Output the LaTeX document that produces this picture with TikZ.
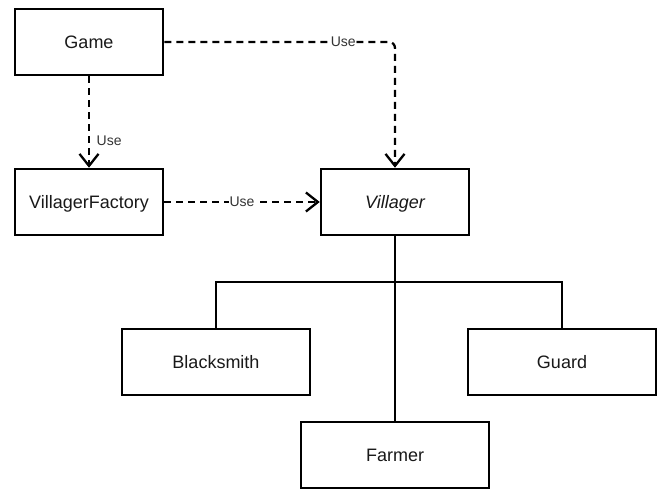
\documentclass[tikz,border=0pt]{standalone}
\usepackage{fontspec}
\setmainfont{Liberation Sans}
\usetikzlibrary{arrows.meta}
\definecolor{labelgray}{HTML}{333333}
\begin{document}
\begin{tikzpicture}[x=1pt,y=-1pt,
  cls/.style={draw=black, line width=2.5pt, fill=white, minimum height=66pt, inner sep=0pt, text height=13pt, text depth=0pt, font=\fontsize{18}{20}\selectfont, text=black!90},
  small/.style={cls, minimum width=148pt},
  big/.style={cls, minimum width=188pt},
  dep/.style={draw=black, line width=2.3pt, dash pattern=on 7pt off 5pt, -{Straight Barb[length=12pt,width=19pt,line width=2.3pt]}},
  uselbl/.style={font=\fontsize{14}{16}\selectfont, text=labelgray, fill=white, inner sep=0.5pt},
  gen/.style={draw=black, line width=2.3pt}
]
\useasboundingbox (0,0) rectangle (666,494);
\node[small] (game) at (89,42) {Game};
\node[small] (factory) at (89,202) {VillagerFactory};
\node[small] (villager) at (395,202) {\itshape Villager};
\node[big] (blacksmith) at (216,362) {Blacksmith};
\node[big] (guard) at (562,362) {Guard};
\node[big] (farmer) at (395,455) {Farmer};
\coordinate (j) at (395,282);

\draw[dep, rounded corners=6pt] (game.east) -| node[uselbl, pos=0.388] {Use} (villager.north);
\draw[dep] (game.south) -- node[uselbl, fill=none, anchor=west, pos=0.7, xshift=6pt] {Use} (factory.north);
\draw[dep] (factory.east) -- node[uselbl, pos=0.5] {Use} (villager.west);

\draw[gen] (villager.south) -- (farmer.north);
\draw[gen] (blacksmith.north) -- (blacksmith.north |- j) -- (guard.north |- j) -- (guard.north);
\end{tikzpicture}
\end{document}
